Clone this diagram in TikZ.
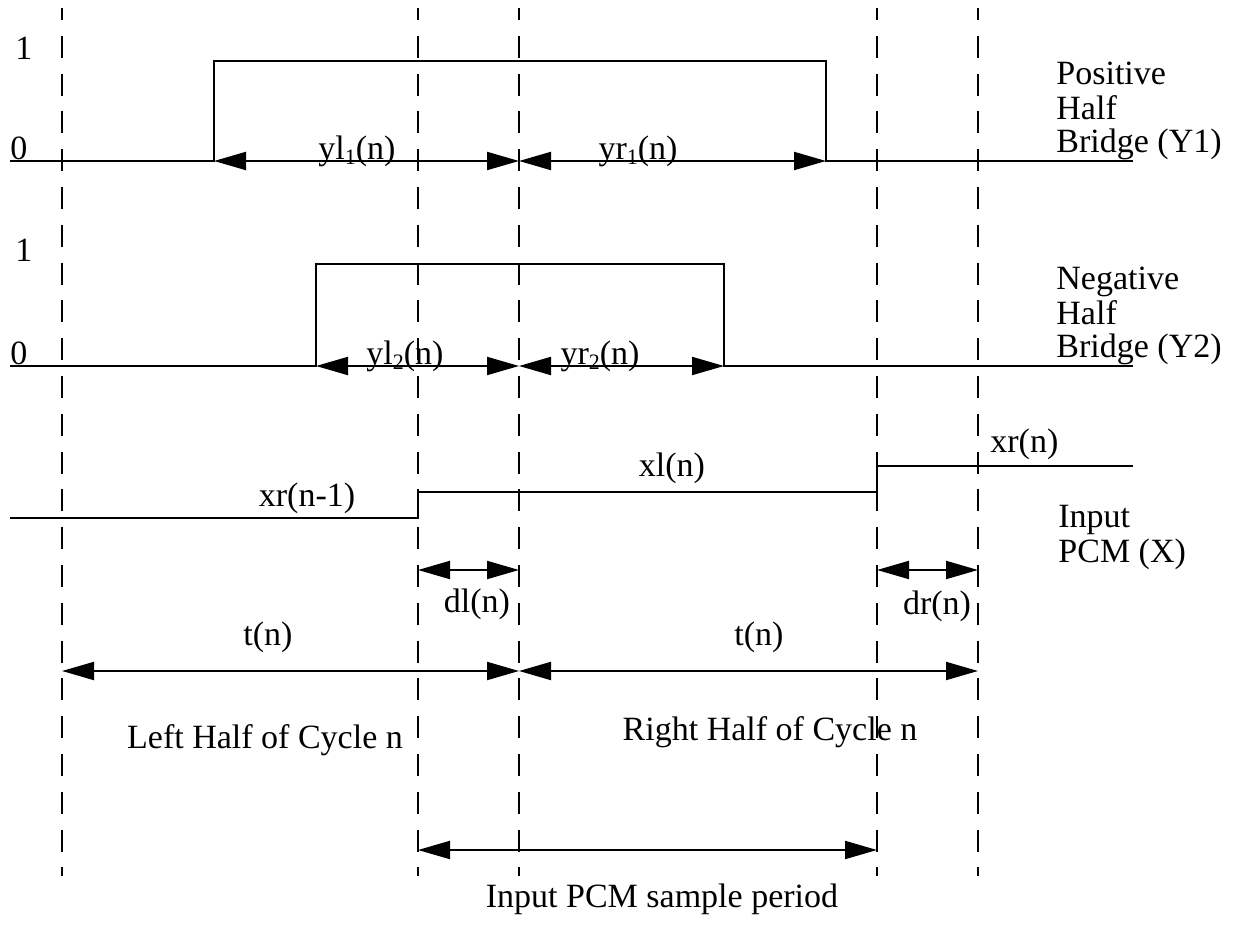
\documentclass[tikz,border=0pt]{standalone}
\usepackage{fontspec}
\setmainfont{Liberation Serif}
\usetikzlibrary{arrows.meta}
\newcommand{\lowidx}[1]{\raisebox{-0.3ex}{\fontsize{11}{11}\selectfont #1}}
\begin{document}
\begin{tikzpicture}[x=0.5pt,y=-0.5pt]
        \tikzstyle{signal}=[draw,line width=1pt]
        \tikzstyle{grid}=[draw,line width=0.8pt,dash pattern=on 11pt off 7.9pt,dash phase=5pt]
        \tikzstyle{span}=[draw,line width=1pt,{Triangle[length=16pt,width=9pt]}-{Triangle[length=16pt,width=9pt]}]
        \tikzstyle{lbl}=[font=\fontsize{17}{17}\selectfont,inner sep=0pt,anchor=base]
        \tikzstyle{side}=[lbl,anchor=base west]
        \useasboundingbox (0,0) rectangle (1235,929);
       % time marks
       \begin{scope}
         \foreach \x/\n in {62/a,418/b,519/c,877/d,978/e} {
           \coordinate (top\n) at (\x,8);
           \coordinate (bot\n) at (\x,876);
           \path[grid] (top\n) -- (bot\n);
         }
       \end{scope}
       % positive half bridge
       \begin{scope}
         \coordinate (p0) at (10,161);
         \coordinate (p1) at (214,161);
         \coordinate (p2) at (214,61);
         \coordinate (p3) at (826,61);
         \coordinate (p4) at (826,161);
         \coordinate (p5) at (1133,161);
         \coordinate (pm) at (519,161);
         \path[signal] (p0) -- (p1) -- (p2) -- (p3) -- (p4) -- (p5);
         \path[span] (p1) -- (pm);
         \path[span] (pm) -- (p4);
         \node [lbl,anchor=base west] (one1) at (15,60) {1};
         \node [lbl,anchor=base west] (zero1) at (10,160) {0};
         \node [lbl] (yl1) at (357,160) {yl\lowidx{1}(n)};
         \node [lbl] (yr1) at (638,160) {yr\lowidx{1}(n)};
         \node [side] (pos1) at (1056,85) {Positive};
         \node [side] (pos2) at (1056,120) {Half};
         \node [side] (pos3) at (1056,153) {Bridge (Y1)};
       \end{scope}
       % negative half bridge
       \begin{scope}
         \coordinate (n0) at (10,366);
         \coordinate (n1) at (316,366);
         \coordinate (n2) at (316,264);
         \coordinate (n3) at (724,264);
         \coordinate (n4) at (724,366);
         \coordinate (n5) at (1133,366);
         \coordinate (nm) at (519,366);
         \path[signal] (n0) -- (n1) -- (n2) -- (n3) -- (n4) -- (n5);
         \path[span] (n1) -- (nm);
         \path[span] (nm) -- (n4);
         \node [lbl,anchor=base west] (one2) at (15,262) {1};
         \node [lbl,anchor=base west] (zero2) at (10,365) {0};
         \node [lbl] (yl2) at (405,365) {yl\lowidx{2}(n)};
         \node [lbl] (yr2) at (600,365) {yr\lowidx{2}(n)};
         \node [side] (neg1) at (1056,290) {Negative};
         \node [side] (neg2) at (1056,325) {Half};
         \node [side] (neg3) at (1056,358) {Bridge (Y2)};
       \end{scope}
       % input pcm
       \begin{scope}
         \coordinate (x0) at (10,518);
         \coordinate (x1) at (418,518);
         \coordinate (x2) at (418,492);
         \coordinate (x3) at (877,492);
         \coordinate (x4) at (877,466);
         \coordinate (x5) at (1133,466);
         \path[signal] (x0) -- (x1) -- (x2) -- (x3) -- (x4) -- (x5);
         \node [lbl] (xrprev) at (307,507) {xr(n-1)};
         \node [lbl] (xl) at (672,477) {xl(n)};
         \node [lbl,anchor=base west] (xr) at (990,453) {xr(n)};
         \node [side] (pcm1) at (1058,528) {Input};
         \node [side] (pcm2) at (1058,562) {PCM (X)};
       \end{scope}
       % delays and periods
       \begin{scope}
         \coordinate (dl0) at (418,570);
         \coordinate (dl1) at (519,570);
         \coordinate (dr0) at (877,570);
         \coordinate (dr1) at (978,570);
         \coordinate (t0) at (62,671);
         \coordinate (t1) at (519,671);
         \coordinate (t2) at (978,671);
         \coordinate (s0) at (418,850);
         \coordinate (s1) at (877,850);
         \path[span] (dl0) -- (dl1);
         \path[span] (dr0) -- (dr1);
         \path[span] (t0) -- (t1);
         \path[span] (t1) -- (t2);
         \path[span] (s0) -- (s1);
         \node [lbl] (dl) at (477,612) {dl(n)};
         \node [lbl] (dr) at (937,614) {dr(n)};
         \node [lbl] (tl) at (268,645) {t(n)};
         \node [lbl] (tr) at (759,645) {t(n)};
         \node [lbl] (lhalf) at (265,748) {Left Half of Cycle n};
         \node [lbl] (rhalf) at (770,740) {Right Half of Cycle n};
         \node [lbl] (period) at (662,907) {Input PCM sample period};
       \end{scope}
      \end{tikzpicture}
\end{document}
